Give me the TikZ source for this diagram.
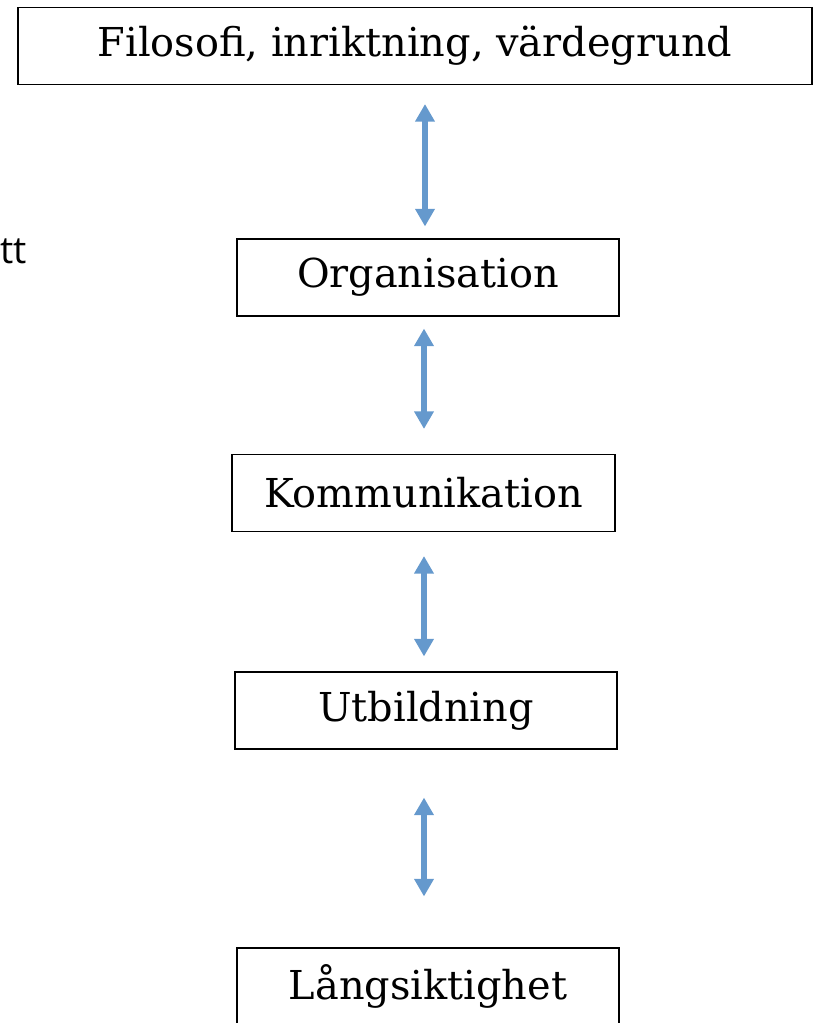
\documentclass[tikz,border=0pt]{standalone}
\usepackage{fontspec}
\setmainfont{DejaVu Serif}
\newfontfamily\notefont{Open Sans}
\usepackage{tikz}
\usetikzlibrary{arrows.meta, positioning}

\definecolor{linkblue}{RGB}{101,153,205}

\begin{document}
\begin{tikzpicture}[
        x=0.03cm, y=-0.03cm,
        stage/.style={rectangle, draw, line width=1.2pt, minimum height=2.3cm, font=\fontsize{34}{40}\selectfont, inner sep=0pt},
        link/.style={{Triangle[length=15pt, width=16pt]}-{Triangle[length=15pt, width=16pt]}, line width=4.6pt, linkblue}
    ]

    \useasboundingbox (0,0) rectangle (813,1023);

    % --- stages ---
    \node[stage, minimum width=23.82cm] (filo) at (415,46) {Filosofi, inriktning, värdegrund};
    \node[stage, minimum width=11.46cm] (org) at (428,277.5) {Organisation};
    \node[stage, minimum width=11.49cm] (komm) at (423.5,493) {Kommunikation};
    \node[stage, minimum width=11.46cm] (utb) at (426,710.5) {Utbildning};
    \node[stage, minimum width=11.46cm] (lang) at (428,986.5) {Långsiktighet};

    % cut-off side note
    \node[anchor=base east, inner sep=0pt, font=\notefont\fontsize{32}{38}\selectfont] (note) at (27,263) {tt};

    % --- links ---
    \draw[link, shorten <=0.57cm, shorten >=0.36cm] (filo.south -| 425,0) -- (org.north -| 425,0);
    \draw[link, shorten <=0.36cm, shorten >=0.75cm] (org.south -| 424,0) -- (komm.north -| 424,0);
    \draw[link, shorten <=0.72cm, shorten >=0.45cm] (komm.south -| 424,0) -- (utb.north -| 424,0);
    \draw[link, shorten <=1.44cm, shorten >=1.53cm] (utb.south -| 424,0) -- (lang.north -| 424,0);

\end{tikzpicture}
\end{document}
